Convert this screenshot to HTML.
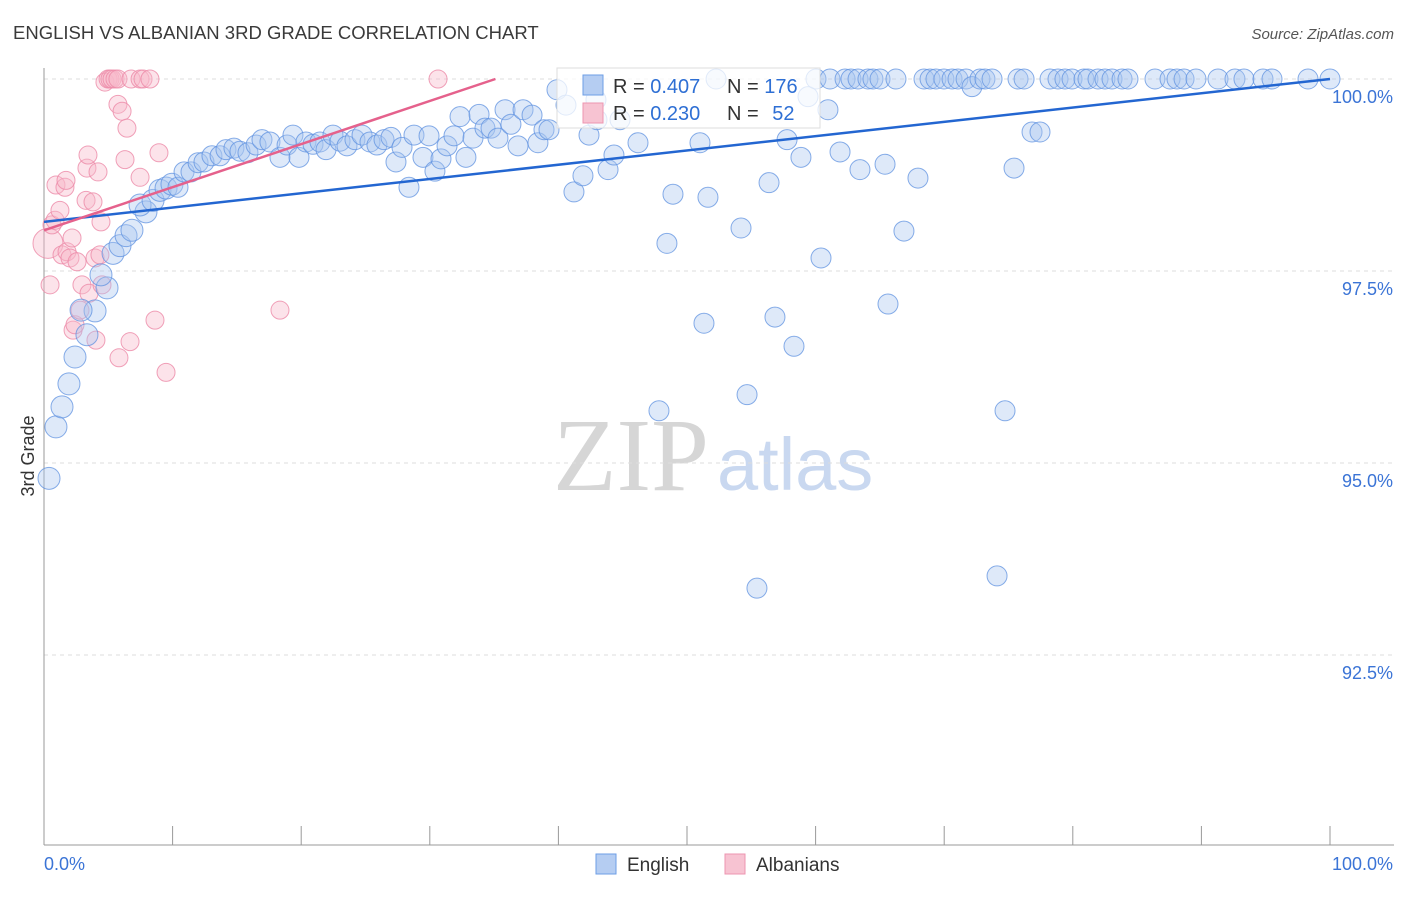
<!DOCTYPE html>
<html><head><meta charset="utf-8"><style>
body{margin:0;background:#fff;font-family:"Liberation Sans",sans-serif;}
svg text{font-family:"Liberation Sans",sans-serif;}
</style></head><body>
<svg id="chart" width="1406" height="892" viewBox="0 0 1406 892" xmlns="http://www.w3.org/2000/svg">
<text x="13" y="39" font-size="18.5" fill="#3a3a3a">ENGLISH VS ALBANIAN 3RD GRADE CORRELATION CHART</text>
<text x="1394" y="39" font-size="15" fill="#555" text-anchor="end" font-style="italic">Source: ZipAtlas.com</text>
<g>
<text x="553" y="490" font-size="104" fill="#d6d6d6" font-family="Liberation Serif" style="font-family:'Liberation Serif',serif">ZIP</text>
<text x="717" y="490" font-size="74" fill="#c9d8f0">atlas</text>
</g>
<g id="grid"></g>
<g id="axes"></g>
<g id="pinkpts"></g>
<g id="bluepts"></g>
<g id="lines"></g>
<text transform="translate(34,456) rotate(-90)" font-size="18" fill="#333" text-anchor="middle">3rd Grade</text>
<g>
<rect x="557" y="68" width="263" height="60" fill="#fff" fill-opacity="0.75" stroke="#ddd"/>
<rect x="583" y="75" width="20" height="20" fill="#b5cdf2" stroke="#6d9ee6"/>
<rect x="583" y="103" width="20" height="20" fill="#f7c3d2" stroke="#ee95b0"/>
<text x="613" y="93" font-size="20" fill="#333">R = <tspan fill="#2e6fd4">0.407</tspan></text>
<text x="727" y="93" font-size="20" fill="#333">N = <tspan fill="#2e6fd4">176</tspan></text>
<text x="613" y="120" font-size="20" fill="#333">R = <tspan fill="#2e6fd4">0.230</tspan></text>
<text x="727" y="120" font-size="20" fill="#333">N = <tspan fill="#2e6fd4" dx="8">52</tspan></text>
</g>
<g>
<rect x="596" y="854" width="20" height="20" fill="#b5cdf2" stroke="#6d9ee6"/>
<text x="627" y="871" font-size="19" fill="#333">English</text>
<rect x="725" y="854" width="20" height="20" fill="#f7c3d2" stroke="#ee95b0"/>
<text x="756" y="871" font-size="19" fill="#333">Albanians</text>
</g>
</svg>
<script>
const yTicks=[100,97.5,95,92.5];
const yTickLabels=["100.0%","97.5%","95.0%","92.5%"];
const xTicks=[0,10,20,30,40,50,60,70,80,90,100];
const xTickLabels=["0.0%","100.0%"];
const englishX=[0.39,0.93,1.40,1.94,2.41,3.34,3.97,2.88,4.90,4.43,5.37,5.91,6.38,6.84,7.93,7.47,8.48,9.02,9.49,9.95,10.42,10.89,11.43,11.98,12.44,13.06,13.69,14.15,14.77,15.24,15.86,16.49,16.95,17.57,18.35,18.90,19.36,19.83,20.37,20.92,21.46,21.93,22.47,23.02,23.56,24.18,24.73,25.35,25.89,26.44,26.98,27.37,27.84,28.38,28.77,29.47,29.94,30.40,30.87,31.34,31.88,32.35,32.81,33.36,33.83,34.29,34.76,35.30,35.85,36.31,36.86,37.25,37.95,38.41,38.88,39.27,39.89,40.59,41.21,41.91,42.38,42.92,43.86,44.32,44.79,46.19,48.44,48.91,51.01,51.32,51.63,52.26,54.20,54.67,56.38,56.84,57.78,58.32,58.86,59.41,60.03,60.42,60.96,61.12,61.90,62.29,62.75,63.30,63.45,64.07,64.46,65.01,65.40,65.63,66.25,66.87,67.96,68.43,68.90,69.36,69.98,70.61,71.07,71.70,72.16,72.78,73.17,73.72,74.11,74.73,
75.43,75.74,76.21,76.83,77.45,
78.23,78.85,79.39,79.94,80.87,81.18,81.96,82.50,83.05,83.83,
84.29,86.39,87.56,88.10,88.65,89.58,91.29,92.61,93.31,94.79,
95.49,98.29,100,
55.44,47.82,43.00];
const englishY=[94.80,95.47,95.73,96.03,96.38,96.67,96.98,96.99,97.28,97.45,97.73,97.83,97.96,98.03,98.27,98.36,98.42,98.55,98.58,98.63,98.59,98.79,98.79,98.91,98.92,99.00,99.00,99.08,99.10,99.06,99.04,99.14,99.21,99.18,98.98,99.14,99.27,98.98,99.18,99.15,99.18,99.08,99.27,99.19,99.13,99.21,99.27,99.18,99.14,99.21,99.24,98.92,99.11,98.59,99.27,98.98,99.26,98.80,98.96,99.13,99.26,99.51,98.98,99.23,99.54,99.36,99.36,99.23,99.60,99.41,99.13,99.60,99.53,99.17,99.34,99.34,99.86,99.66,98.53,98.74,99.27,99.73,98.82,99.01,99.47,99.17,97.86,98.50,99.17,96.82,98.46,100,98.06,95.89,98.65,96.90,99.21,96.52,98.98,99.77,100,97.67,99.60,100,99.05,100,100,100,98.82,100,100,100,98.89,97.07,100,98.02,98.71,100,100,100,100,100,100,100,99.90,100,100,100,93.53,95.68,
98.84,100,100,99.31,99.31,
100,100,100,100,100,100,100,100,100,100,
100,100,100,100,100,100,100,100,100,100,
100,100,100,
93.37,95.68,99.47];
const albX=[0.31,0.47,0.62,0.86,0.93,1.24,1.40,1.63,1.71,1.79,2.02,2.18,2.26,2.41,2.57,2.80,2.95,3.27,3.34,3.42,3.50,3.81,3.97,4.04,4.20,4.43,4.51,4.74,4.98,5.13,5.29,5.52,5.75,5.75,5.83,6.07,6.30,6.45,6.69,6.77,7.47,7.47,7.70,8.24,8.63,8.94,9.49,18.35,30.64,4.35];
const albY=[97.86,97.32,98.10,98.16,98.62,98.29,97.71,98.59,98.68,97.75,97.67,97.93,96.73,96.80,97.62,96.99,97.32,98.42,98.84,99.01,97.21,98.40,97.67,96.60,98.79,98.14,97.32,99.96,100,100,100,100,100,99.67,96.37,99.58,98.95,99.36,96.58,100,100,98.72,100,100,96.86,99.04,96.18,96.99,100,97.71];
const blueLine=[[0,98.14],[100,100]];
const pinkLine=[[0,98.03],[35.1,100]];

const NS="http://www.w3.org/2000/svg";
const X0=44,X1=1330,Ytop=79,PPY=76.8;
const sx=v=>X0+(X1-X0)*v/100;
const sy=v=>Ytop+(100-v)*PPY;
function mk(tag,attrs,parent){const e=document.createElementNS(NS,tag);for(const k in attrs)e.setAttribute(k,attrs[k]);parent.appendChild(e);return e;}
const grid=document.getElementById('grid'),axes=document.getElementById('axes');
yTicks.forEach((t,i)=>{
  const l=mk('line',{x1:X0,x2:1394,y1:sy(t),y2:sy(t),stroke:'#ddd','stroke-dasharray':'4,4'},grid);
  
  
  const tx=mk('text',{x:1393,y:sy(t)+24,'font-size':18,fill:'#3b74d6','text-anchor':'end'},axes);
  tx.textContent=yTickLabels[i];
  
  
});
const ya=mk('line',{x1:X0,x2:X0,y1:68,y2:845,stroke:'#999'},axes);


const xa=mk('line',{x1:X0,x2:1394,y1:845,y2:845,stroke:'#999'},axes);


xTicks.forEach(t=>{
  const l=mk('line',{x1:sx(t),x2:sx(t),y1:826,y2:845,stroke:'#999'},axes);
  
  
});
const xl0=mk('text',{x:44,y:870,'font-size':18,fill:'#3b74d6'},axes);xl0.textContent=xTickLabels[0];


const xl1=mk('text',{x:1393,y:870,'font-size':18,fill:'#3b74d6','text-anchor':'end'},axes);xl1.textContent=xTickLabels[1];


const pg=document.getElementById('pinkpts');
albX.forEach((x,i)=>{
  const r=(i===0)?15:9;
  const c=mk('circle',{cx:sx(x),cy:sy(albY[i]),r:r,fill:'#f7b8cb','fill-opacity':0.4,stroke:'#ec8aa8','stroke-opacity':0.8,'stroke-width':1},pg);
  
  
});
const bg=document.getElementById('bluepts');
const n=Math.min(englishX.length,englishY.length);
for(let i=0;i<n;i++){
  const x=englishX[i];
  const r=(x<10)?11:10;
  const c=mk('circle',{cx:sx(x),cy:sy(englishY[i]),r:r,fill:'#a9c6f0','fill-opacity':0.38,stroke:'#5f92e0','stroke-opacity':0.75,'stroke-width':1},bg);
  
  
}
const lg=document.getElementById('lines');
const bl=mk('line',{x1:sx(blueLine[0][0]),y1:sy(blueLine[0][1]),x2:sx(blueLine[1][0]),y2:sy(blueLine[1][1]),stroke:'#2366d1','stroke-width':2.5},lg);


const pl=mk('line',{x1:sx(pinkLine[0][0]),y1:sy(pinkLine[0][1]),x2:sx(pinkLine[1][0]),y2:sy(pinkLine[1][1]),stroke:'#e5618c','stroke-width':2.5},lg);


</script>
</body></html>
